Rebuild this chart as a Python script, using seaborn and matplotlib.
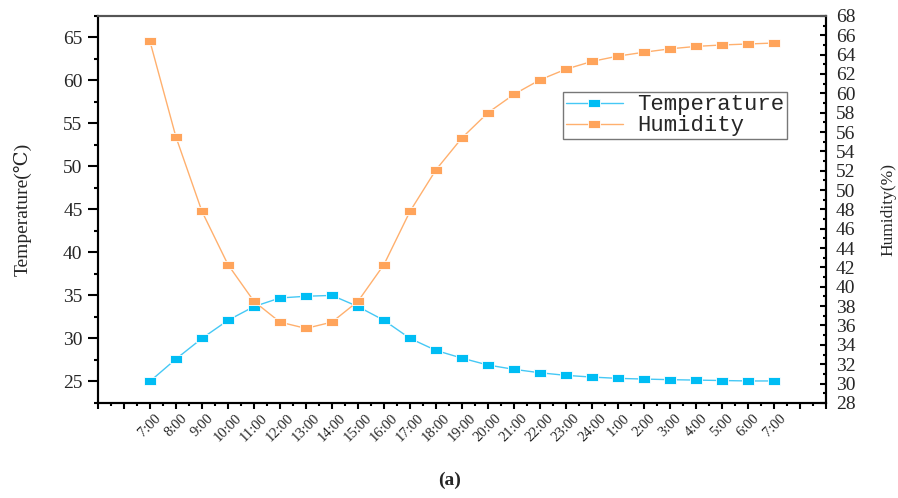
import numpy as np
import pandas as pd
import seaborn as sns
import matplotlib.pyplot as plt
from matplotlib.ticker import MultipleLocator

# data
hours = ["7:00", "8:00", "9:00", "10:00", "11:00", "12:00", "13:00", "14:00",
         "15:00", "16:00", "17:00", "18:00", "19:00", "20:00", "21:00", "22:00",
         "23:00", "24:00", "1:00", "2:00", "3:00", "4:00", "5:00", "6:00", "7:00"]
temperature = [25.0, 27.6, 30.0, 32.1, 33.7, 34.7, 34.9, 35.0, 33.7, 32.1, 30.0,
               28.6, 27.7, 26.9, 26.4, 26.0, 25.7, 25.5, 25.35, 25.27, 25.2,
               25.15, 25.1, 25.05, 25.05]
humidity = [65.4, 55.5, 47.8, 42.3, 38.5, 36.35, 35.7, 36.35, 38.5, 42.3, 47.8,
            52.1, 55.4, 58.0, 59.9, 61.4, 62.5, 63.3, 63.85, 64.25, 64.6, 64.85,
            65.0, 65.1, 65.2]

df = pd.DataFrame({"idx": np.arange(len(hours)),
                   "Temperature": temperature,
                   "Humidity": humidity})

sns.set_style("ticks")
plt.rcParams["font.family"] = ["Liberation Serif", "DejaVu Serif"]

fig = plt.figure(figsize=(8.98, 4.98), dpi=100)
ax = fig.add_axes([0.109, 0.191, 0.811, 0.777])
ax2 = ax.twinx()

# rectangular marker (wider than tall)
box = [(-1.5, -1), (1.5, -1), (1.5, 1), (-1.5, 1), (-1.5, -1)]

sns.lineplot(data=df, x="idx", y="Temperature", ax=ax, color="#45C8F5",
             marker=box, markersize=8, markerfacecolor="#00BDF4",
             markeredgecolor="white", markeredgewidth=0.6, linewidth=1,
             label="Temperature", legend=False)
sns.lineplot(data=df, x="idx", y="Humidity", ax=ax2, color="#FFB06E",
             marker=box, markersize=8, markerfacecolor="#FFA45B",
             markeredgecolor="white", markeredgewidth=0.6, linewidth=1,
             label="Humidity", legend=False)

# axes limits / ticks
ax.set_xlim(-2, 26)
ax.set_ylim(22.5, 67.5)
ax2.set_ylim(28, 68)

ax.set_xticks(range(-2, 27))
ax.set_xticklabels(["", ""] + hours + ["", ""], rotation=45, fontsize=10)
ax.xaxis.set_minor_locator(MultipleLocator(0.5))

ax.set_yticks(range(25, 66, 5))
ax.yaxis.set_minor_locator(MultipleLocator(2.5))
ax2.set_yticks(range(28, 69, 2))
ax2.yaxis.set_minor_locator(MultipleLocator(1))

ax.tick_params(axis="y", which="major", direction="out", length=7,
               width=1.5, color="black", labelsize=14, pad=4)
ax.tick_params(axis="y", which="minor", direction="out", length=3,
               width=1.5, color="black")
ax.tick_params(axis="x", which="major", direction="out", length=4.5,
               width=1.5, color="black", labelsize=10.5, pad=2)
ax.tick_params(axis="x", which="minor", direction="out", length=2.5,
               width=1.5, color="black")
ax2.tick_params(axis="y", which="major", direction="in", length=4,
                width=1.5, color="black", labelsize=14, pad=7)
ax2.tick_params(axis="y", which="minor", direction="in", length=2.5,
                width=1.5, color="black")

for a in (ax, ax2):
    for side in ("left", "right", "bottom"):
        a.spines[side].set_color("black")
        a.spines[side].set_linewidth(1.5)
    a.spines["top"].set_color("#555555")
    a.spines["top"].set_linewidth(1.5)

ax.set_xlabel("")
ax.set_ylabel("Temperature(℃)", fontsize=14)
ax.yaxis.set_label_coords(-0.091, 0.5)
ax2.set_ylabel("Humidity(%)", fontsize=12.5)
ax2.yaxis.set_label_coords(1.074, 0.5)

# legend combined from both axes
h1, l1 = ax.get_legend_handles_labels()
h2, l2 = ax2.get_legend_handles_labels()
leg = ax2.legend(h1 + h2, l1 + l2, loc="upper left",
                 bbox_to_anchor=(0.639, 0.804), borderaxespad=0,
                 frameon=True, fancybox=False, framealpha=1,
                 edgecolor="#777777",
                 prop={"family": "Liberation Mono", "size": 16},
                 handlelength=2.55, handletextpad=0.65, borderpad=0.12,
                 labelspacing=0.0)
leg.get_frame().set_linewidth(1)

fig.text(0.501, 0.036, "(a)", ha="center", va="center", fontsize=14,
         fontweight="bold")

plt.savefig("out.png", dpi=100)
